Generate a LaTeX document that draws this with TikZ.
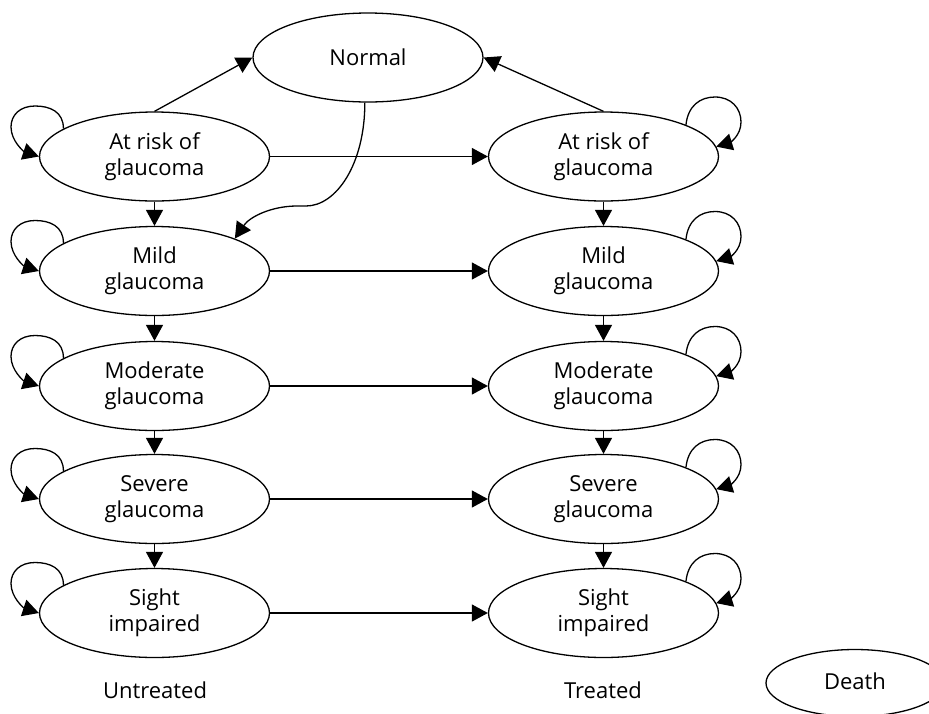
\documentclass[tikz,border=0pt]{standalone}
\usepackage{fontspec}
\setmainfont{Open Sans}
\usetikzlibrary{arrows.meta,shapes.geometric}
\newcommand{\statefont}{\fontsize{22}{26}\selectfont}
\begin{document}
\begin{tikzpicture}[x=1pt,y=-1pt,
  state/.style={ellipse,draw,line width=1.3pt,minimum width=230pt,minimum height=89pt,inner sep=0pt,align=center,font=\statefont},
  arr/.style={line width=1.3pt,-{Triangle[length=16pt,width=17pt]}},
  lbl/.style={font=\statefont,inner sep=0pt}]
\useasboundingbox (0,0) rectangle (929,713);
\clip (0,0) rectangle (929,713);
% nodes
\node[state] (N) at (368,57.5) {Normal};
\node[state] (a1) at (154.5,156.5) {At risk of\\glaucoma};
\node[state] (a2) at (154.5,271) {Mild\\glaucoma};
\node[state] (a3) at (154.5,386) {Moderate\\glaucoma};
\node[state] (a4) at (154.5,499) {Severe\\glaucoma};
\node[state] (a5) at (154.5,613) {Sight\\impaired};
\node[state] (b1) at (603.5,156.5) {At risk of\\glaucoma};
\node[state] (b2) at (603.5,271) {Mild\\glaucoma};
\node[state] (b3) at (603.5,386) {Moderate\\glaucoma};
\node[state] (b4) at (603.5,499) {Severe\\glaucoma};
\node[state] (b5) at (603.5,613) {Sight\\impaired};
\node[lbl] (u) at (155,690) {Untreated};
\node[lbl] (t) at (603,690) {Treated};
\node[state,minimum width=178pt,minimum height=67pt] (d) at (855,683) {\raisebox{4pt}{Death}};
% vertical and horizontal transitions
\foreach \i/\j in {1/2,2/3,3/4,4/5}{
  \draw[arr] (a\i) -- (a\j);
  \draw[arr] (b\i) -- (b\j);
}
\foreach \i in {1,...,5}{
  \draw[arr] (a\i) -- (b\i);
  % self loops (untreated, left side)
  \draw[arr] (a\i.163) .. controls +(0,-17) and +(15,0) ..
    ([shift={(-119.5,-50.5)}]a\i.center) .. controls +(-15,0) and +(0,-12) ..
    ([shift={(-143.5,-29.5)}]a\i.center) .. controls +(0,14) and +(-15,-5) .. (a\i.west);
  % self loops (treated, right side)
  \draw[arr] (b\i.21) .. controls +(2,-19) and +(-15,0) ..
    ([shift={(111.5,-59.5)}]b\i.center) .. controls +(16,0) and +(0,-14) ..
    ([shift={(137.5,-34.5)}]b\i.center) .. controls +(0,14) and +(13,-4) .. (b\i.5);
}
% to and from normal
\draw[arr] (a1.north) -- (N.west);
\draw[arr] (b1.north) -- (N.east);
\draw[arr] (N.266) .. controls +(0,62) and +(30,0) .. (306,206) -- (297,206) .. controls +(-25,0) and +(15,-22) .. (a2.22);
\end{tikzpicture}
\end{document}
